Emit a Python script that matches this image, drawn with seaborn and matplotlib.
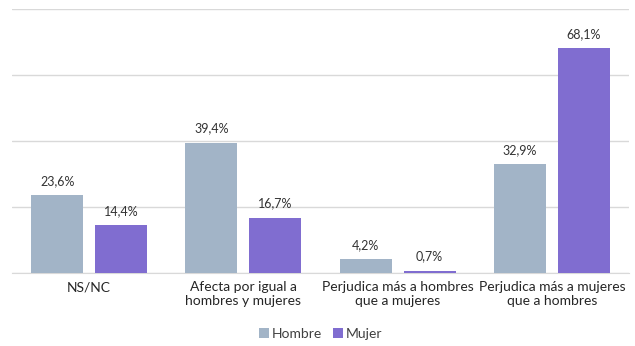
import pandas as pd
import matplotlib
matplotlib.use("Agg")
import matplotlib.pyplot as plt
import seaborn as sns

# Datos
categorias = ['NS/NC', 'Afecta por igual a\nhombres y mujeres',
              'Perjudica más a hombres\nque a mujeres', 'Perjudica más a mujeres\nque a hombres']
hombre = [23.6, 39.4, 4.2, 32.9]
mujer = [14.4, 16.7, 0.7, 68.1]
grupos = ['Hombre', 'Mujer']
colores = ['#a2b4c7', '#806dd0']

df = pd.DataFrame({
    'Categoria': categorias * 2,
    'Grupo': ['Hombre'] * 4 + ['Mujer'] * 4,
    'Valor': hombre + mujer,
})

sns.set_style('white')
plt.rcParams['font.family'] = ['Lato', 'DejaVu Sans']

fig = plt.figure(figsize=(6.35, 3.46), dpi=100)
ax = fig.add_axes([12 / 635, 1 - 273 / 346, 617 / 635, 264 / 346])

sns.barplot(data=df, x='Categoria', y='Valor', hue='Grupo', palette=colores,
            width=0.83, gap=0.19, saturation=1, linewidth=0, ax=ax,
            legend=True, zorder=3)

ax.set_ylim(0, 80)
ax.set_xlim(-0.5, 3.5)
ax.set_yticks([0, 20, 40, 60, 80])
ax.yaxis.grid(True, color='#d9d9d9', linewidth=1, zorder=0)
ax.set_yticklabels([])
ax.tick_params(axis='y', length=0)
ax.tick_params(axis='x', length=0, labelsize=10, colors='#262626', pad=6)
for s in ['top', 'right', 'left']:
    ax.spines[s].set_visible(False)
ax.spines['bottom'].set_color('#d9d9d9')
ax.set_xlabel('')
ax.set_ylabel('')

for cont in ax.containers:
    ax.bar_label(cont, labels=[f'{v:.1f}%'.replace('.', ',') for v in cont.datavalues],
                 padding=6, fontsize=9, color='#333333')

handles, labels = ax.get_legend_handles_labels()
ax.legend(handles, labels, loc='lower center', bbox_to_anchor=(0.5, -0.3),
          ncol=2, frameon=False, fontsize=10, handlelength=0.7, handleheight=0.7,
          handletextpad=0.2, columnspacing=0.8, labelcolor='#404040')

fig.savefig('out.png', dpi=100)
